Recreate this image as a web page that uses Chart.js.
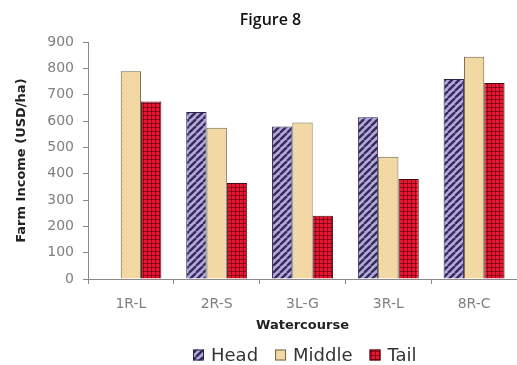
<!DOCTYPE html>
<html>
<head>
<meta charset="utf-8">
<script src="https://cdn.jsdelivr.net/npm/chart.js@4/dist/chart.umd.min.js"></script>
<style>
  html, body { margin: 0; padding: 0; background: #ffffff; }
  #wrap { width: 517px; height: 365px; }
</style>
</head>
<body>
<div id="wrap"><canvas id="c" width="517" height="365"></canvas></div>
<script>
// Farm income by watercourse position
const categories = ['1R-L', '2R-S', '3L-G', '3R-L', '8R-C'];
const seriesNames = ['Head', 'Middle', 'Tail'];
const headValues = [null, 635, 580, 615, 760];
const middleValues = [790, 575, 595, 465, 845];
const tailValues = [675, 365, 240, 380, 745];
const yTicks = [0, 100, 200, 300, 400, 500, 600, 700, 800, 900];

function tile(size, paint) {
  const t = document.createElement('canvas');
  t.width = size; t.height = size;
  const g = t.getContext('2d');
  paint(g, size);
  return document.getElementById('c').getContext('2d').createPattern(t, 'repeat');
}

// diagonal lavender / navy stripes
const headFill = tile(7, (g, s) => {
  g.fillStyle = '#b6a8dc';
  g.fillRect(0, 0, s, s);
  g.strokeStyle = '#322b58';
  g.lineWidth = 2.3;
  for (const k of [-s, 0, s]) {
    g.beginPath();
    g.moveTo(k, s);
    g.lineTo(k + s, 0);
    g.stroke();
  }
});

// light tan with faint specks
const middleFill = tile(4, (g, s) => {
  g.fillStyle = '#f2d6a0';
  g.fillRect(0, 0, s, s);
  g.fillStyle = '#f9e6c2';
  g.fillRect(1, 1, 1, 1);
  g.fillRect(3, 3, 1, 1);
});

// red with dark check
const tailFill = tile(4, (g, s) => {
  g.fillStyle = '#ec1530';
  g.fillRect(0, 0, s, s);
  g.fillStyle = 'rgba(80,0,14,0.6)';
  g.fillRect(0, 3, s, 1);
  g.fillRect(3, 0, 1, s);
});

const fills = [headFill, middleFill, tailFill];
const borders = ['#2b2747', '#6f6446', '#4a0a12'];

// legend row under the axis title
const legendRow = {
  id: 'legendRow',
  afterDraw(chart) {
    const ctx = chart.ctx;
    const font = '18px "DejaVu Sans", sans-serif';
    const box = 11, gapText = 7, gapItem = 17;
    ctx.save();
    ctx.font = font;
    let x = 193;
    const yc = 355;
    chart.data.datasets.forEach((ds) => {
      ctx.fillStyle = ds.backgroundColor;
      ctx.fillRect(x, yc - box / 2, box, box);
      ctx.strokeStyle = ds.borderColor;
      ctx.lineWidth = 1;
      ctx.strokeRect(x + 0.5, yc - box / 2 + 0.5, box - 1, box - 1);
      x += box + gapText;
      ctx.fillStyle = '#333333';
      ctx.textBaseline = 'middle';
      ctx.textAlign = 'left';
      ctx.fillText(ds.label, x, yc + 1);
      x += ctx.measureText(ds.label).width + gapItem;
    });
    ctx.restore();
  }
};

// nudge the title a little right of the canvas centre
const titleShift = {
  id: 'titleShift',
  beforeDraw(chart) {
    const t = chart.titleBlock;
    if (t && !t._shifted) {
      t.left += 12; t.right += 12; t._shifted = true;
    }
  }
};

const seriesValues = [headValues, middleValues, tailValues];

new Chart(document.getElementById('c'), {
  type: 'bar',
  data: {
    labels: categories,
    datasets: seriesNames.map((name, i) => ({
      label: name,
      data: seriesValues[i],
      backgroundColor: fills[i],
      borderColor: borders[i],
      borderWidth: 1,
      categoryPercentage: 0.71,
      barPercentage: 1.0
    }))
  },
  options: {
    responsive: false,
    animation: false,
    devicePixelRatio: 1,
    layout: { padding: { left: 0, right: 0, top: 0, bottom: 0 } },
    plugins: {
      legend: { display: false },
      tooltip: { enabled: false },
      title: {
        display: true,
        text: 'Figure 8',
        color: '#111111',
        font: { family: '"Open Sans", sans-serif', size: 16, weight: '600' },
        padding: { top: 11, bottom: 12 }
      }
    },
    scales: {
      x: {
        offset: true,
        grid: {
          offset: true,
          drawOnChartArea: false,
          drawTicks: true,
          tickLength: 5,
          color: '#8a8a8a'
        },
        border: { display: true, color: '#8a8a8a', width: 1 },
        ticks: {
          color: '#808080',
          font: { family: '"DejaVu Sans", sans-serif', size: 14 },
          padding: 12,
          maxRotation: 0
        },
        title: {
          display: true,
          text: 'Watercourse',
          color: '#222222',
          font: { family: '"DejaVu Sans", sans-serif', size: 13, weight: 'bold' },
          padding: { top: 0, bottom: 32 }
        },
        afterFit(scale) { scale.height = 86; }
      },
      y: {
        min: 0,
        max: 900,
        afterBuildTicks(scale) { scale.ticks = yTicks.map(v => ({ value: v })); },
        grid: {
          drawOnChartArea: false,
          drawTicks: true,
          tickLength: 5,
          color: '#8a8a8a'
        },
        border: { display: true, color: '#8a8a8a', width: 1 },
        ticks: {
          color: '#808080',
          font: { family: '"DejaVu Sans", sans-serif', size: 14 },
          padding: 9
        },
        title: {
          display: true,
          text: 'Farm Income (USD/ha)',
          color: '#222222',
          font: { family: '"DejaVu Sans", sans-serif', size: 13, weight: 'bold' },
          padding: { top: 14, bottom: 0 }
        },
        afterFit(scale) { scale.width = 88; }
      }
    }
  },
  plugins: [legendRow, titleShift]
});
</script>
</body>
</html>
